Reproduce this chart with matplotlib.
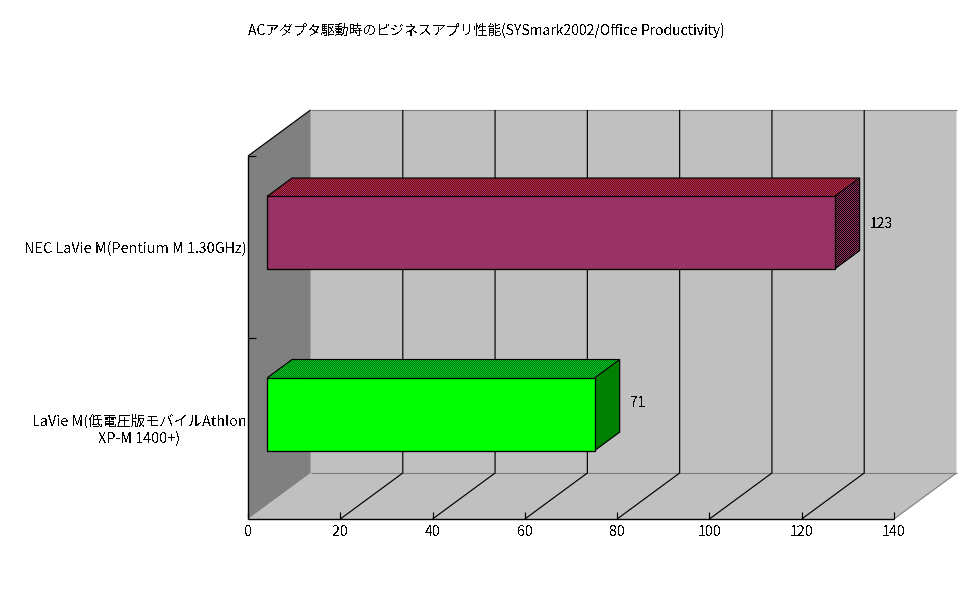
import matplotlib
matplotlib.use("Agg")
import numpy as np
import matplotlib.pyplot as plt
from matplotlib.colors import to_rgb
from matplotlib.patches import Polygon

plt.rcParams['font.family'] = ['Noto Sans CJK JP', 'DejaVu Sans']
plt.rcParams['text.antialiased'] = False

title = "ACアダプタ駆動時のビジネスアプリ性能(SYSmark2002/Office Productivity)"
categories = ["LaVie M(低電圧版モバイルAthlon\nXP-M 1400+)", "NEC LaVie M(Pentium M 1.30GHz)"]
values = [71, 123]
xticks = [0, 20, 40, 60, 80, 100, 120, 140]
face = ["#00FF00", "#993366"]
top_a = ["#008000", "#993366"]
top_b = ["#00C030", "#800800"]
side_a = ["#008000", "#993366"]
side_b = ["#008000", "#000000"]

W, H = 972, 604
fig = plt.figure(figsize=(W / 100, H / 100), dpi=100, facecolor="white")
L, R, T, B = 248, 894, 156, 519
ax = fig.add_axes([L / W, 1 - B / H, (R - L) / W, (B - T) / H])
ax.axis("off")

XMAX, YMAX = 140, 2
PXX = (R - L) / XMAX
PXY = (B - T) / YMAX
DX = 62.5 / PXX
DY = 46 / PXY


def p(v, y, d):
    return (v + d * DX, y + d * DY)


def poly(pts, fc, ec="none", lw=0.0, z=1):
    ax.add_patch(Polygon(pts, closed=True, facecolor=fc, edgecolor=ec, linewidth=lw, zorder=z, clip_on=False))


def dither(pts, a, b, z):
    xs, ys = zip(*pts)
    x0, x1, y0, y1 = min(xs), max(xs), min(ys), max(ys)
    nx, ny = max(2, round((x1 - x0) * PXX)), max(2, round((y1 - y0) * PXY))
    yy, xx = np.indices((ny, nx))
    mask = ((xx + yy) % 2 == 0)[..., None]
    img = np.where(mask, np.array(to_rgb(a)), np.array(to_rgb(b)))
    im = ax.imshow(img, extent=(x0, x1, y0, y1), aspect="auto", interpolation="nearest", zorder=z, origin="lower")
    clip = Polygon(pts, closed=True, transform=ax.transData)
    im.set_clip_path(clip)


def line(pts, color="black", lw=0.85, z=3):
    ax.plot(*zip(*pts), color=color, lw=lw, zorder=z, clip_on=False, solid_capstyle="butt", solid_joinstyle="miter")


# walls
poly([p(0, 0, 0), p(0, 0, 1), p(XMAX, 0, 1), p(XMAX, YMAX, 1), p(0, YMAX, 1)], "#C0C0C0", z=1)
poly([p(0, 0, 0), p(XMAX, 0, 0), p(XMAX, 0, 1), p(0, 0, 1)], "#C0C0C0", z=1)
poly([p(0, 0, 0), p(0, 0, 1), p(0, YMAX, 1), p(0, YMAX, 0)], "#808080", z=2)
line([p(0, 0, 1), p(XMAX, 0, 1)], color="#808080", z=2)
line([p(0, YMAX, 1), p(XMAX, YMAX, 1)], color="#808080", z=2)
line([p(XMAX, 0, 0), p(XMAX, 0, 1)], color="#808080", z=2)

# grid on back wall and floor
for t in xticks[1:-1]:
    line([p(t, 0, 0), p(t, 0, 1), p(t, YMAX, 1)])
line([p(0, YMAX, 0), p(0, YMAX, 1)])

# axes
line([(0, 0), (0, YMAX)], lw=1.0, z=4)
line([(0, 0), (XMAX, 0)], lw=1.0, z=4)
for y in (1, 2):
    line([p(0, y, 0), (8 / PXX, y)], z=4)
for t in xticks:
    line([(t, 0), (t, 7 / PXY)], z=4)
    ax.text(t, -12.5 / PXY, str(t), ha="center", va="center", fontsize=10.2, color="black")

# bars
d1, d2 = 0.305, 0.705
for i, v in enumerate(values):
    y0, y1 = i + 0.30, i + 0.70
    dither([p(0, y1, d1), p(v, y1, d1), p(v, y1, d2), p(0, y1, d2)], top_a[i], top_b[i], 5)
    dither([p(v, y0, d1), p(v, y0, d2), p(v, y1, d2), p(v, y1, d1)], side_a[i], side_b[i], 5)
    line([p(0, y1, d1), p(0, y1, d2), p(v, y1, d2), p(v, y0, d2), p(v, y0, d1)], z=6)
    line([p(v, y1, d1), p(v, y1, d2)], z=6)
    poly([p(0, y0, d1), p(v, y0, d1), p(v, y1, d1), p(0, y1, d1)], face[i], ec="black", lw=0.95, z=7)
    ax.text(v + 11.8, i * 0.985 + 0.64, str(v), ha="left", va="center", fontsize=10, zorder=8)

# category labels
for i, c in enumerate(categories):
    ax.text(-0.3, i + 0.49, c, ha="right", va="center", ma="center", fontsize=10.3, linespacing=1.3)

ax.set_xlim(0, XMAX)
ax.set_ylim(0, YMAX)
fig.text(486 / W, 1 - 30 / H, title, ha="center", va="center", fontsize=10)
fig.savefig("out.png", dpi=100, facecolor="white")
